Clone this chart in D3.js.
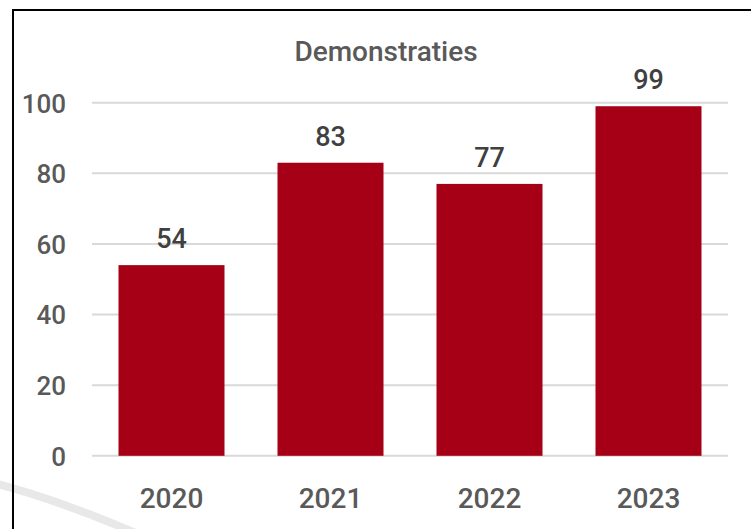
<!DOCTYPE html>
<html>
<head>
<meta charset="utf-8">
<script src="https://cdn.jsdelivr.net/npm/d3@7"></script>
<style>
  html, body { margin: 0; padding: 0; background: #fff; }
  svg { display: block; }
  text { font-family: Roboto, "DejaVu Sans", sans-serif; fill: #595959; font-weight: 500; }
</style>
</head>
<body>
<svg id="chart" width="751" height="529"></svg>
<script>
const categories = ["2020", "2021", "2022", "2023"];
const values = [54, 83, 77, 99];
const yTicks = [0, 20, 40, 60, 80, 100];
const title = "Demonstraties";

const W = 751, H = 529;
const svg = d3.select("#chart");

// decorative background arc (bottom-left)
svg.append("path")
  .attr("d", "M -10 482 Q 60 500 140 535")
  .attr("fill", "none")
  .attr("stroke", "#e8e8e8")
  .attr("stroke-width", 8);

// frame
svg.append("path")
  .attr("d", `M 13 ${H} L 13 10 L ${W} 10`)
  .attr("fill", "none")
  .attr("stroke", "#000")
  .attr("stroke-width", 2);

const x = d3.scaleBand().domain(categories).range([92, 728]).paddingInner(1/3).paddingOuter(1/6);
const y = d3.scaleLinear().domain([0, 100]).range([455.8, 102.7]);

// gridlines
svg.append("g").selectAll("line").data(yTicks).join("line")
  .attr("x1", 92).attr("x2", 728)
  .attr("y1", d => y(d)).attr("y2", d => y(d))
  .attr("stroke", "#d9d9d9").attr("stroke-width", 2);

// y axis labels
const yAxis = d3.axisLeft(y).tickValues(yTicks).tickSize(0).tickPadding(0);
const gy = svg.append("g").attr("transform", "translate(66,0)").call(yAxis);
gy.select(".domain").remove();
gy.selectAll("text")
  .attr("font-size", 26)
  .attr("font-family", "Roboto, sans-serif")
  .attr("font-weight", 500)
  .attr("fill", "#595959")
  .attr("dy", "0.36em");

// bars
svg.append("g").selectAll("rect").data(values).join("rect")
  .attr("x", (d, i) => x(categories[i]))
  .attr("width", x.bandwidth())
  .attr("y", d => y(d))
  .attr("height", d => y(0) - y(d))
  .attr("fill", "#a50016");

// value labels
svg.append("g").selectAll("text").data(values).join("text")
  .attr("x", (d, i) => x(categories[i]) + x.bandwidth() / 2)
  .attr("y", d => y(d) - 17)
  .attr("text-anchor", "middle")
  .attr("font-size", 27)
  .style("fill", "#404040")
  .text(d => d);

// x axis labels
const xAxis = d3.axisBottom(x).tickSize(0).tickPadding(0);
const gx = svg.append("g").attr("transform", "translate(0,508)").call(xAxis);
gx.select(".domain").remove();
gx.selectAll("text")
  .attr("font-size", 28)
  .attr("font-family", "Roboto, sans-serif")
  .attr("font-weight", 500)
  .attr("fill", "#595959")
  .attr("dy", "0");

// title
svg.append("text")
  .attr("x", 386).attr("y", 61)
  .attr("text-anchor", "middle")
  .attr("font-size", 28)
  .style("fill", "#595959")
  .text(title);
</script>
</body>
</html>
